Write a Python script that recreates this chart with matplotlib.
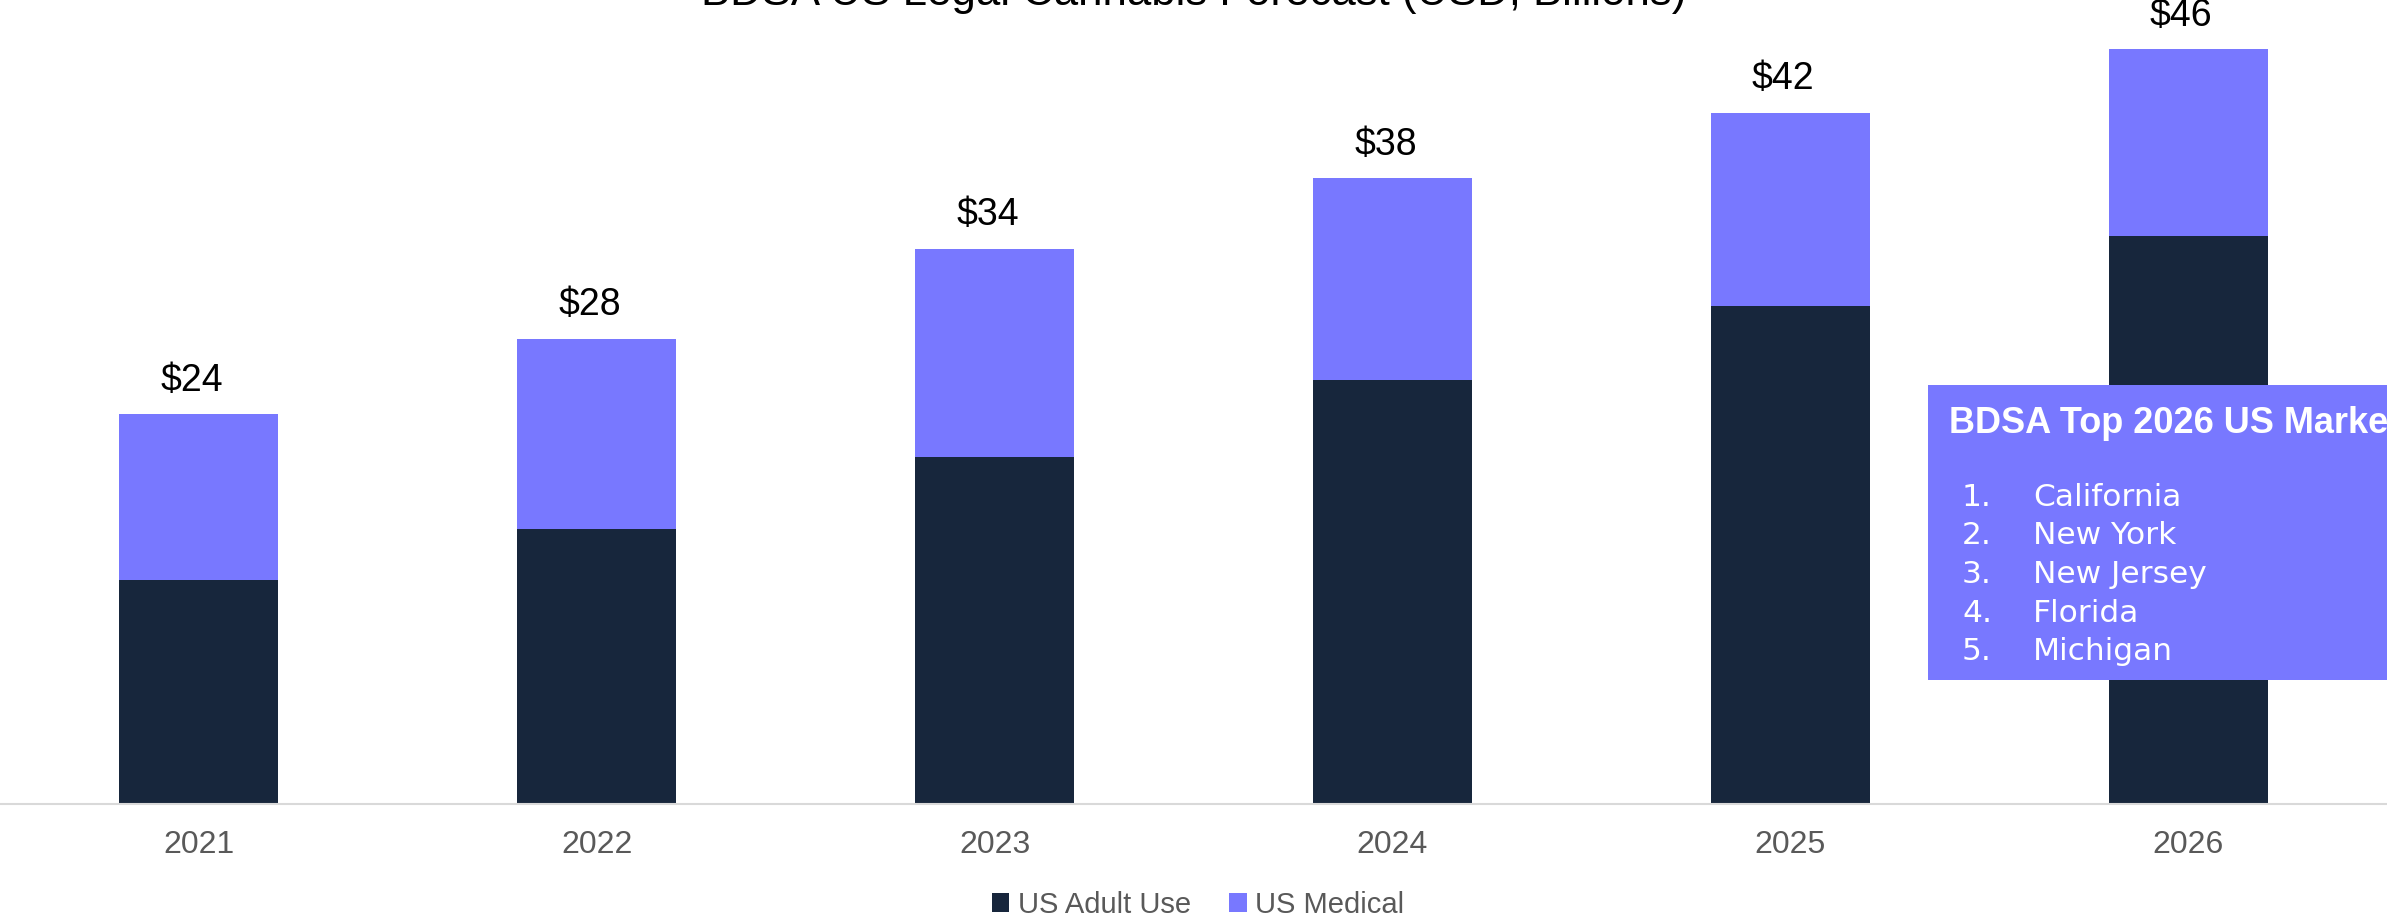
import matplotlib
matplotlib.use("Agg")
import matplotlib.pyplot as plt
import matplotlib.patches as patches
import numpy as np

# data
years = ["2021", "2022", "2023", "2024", "2025", "2026"]
adult_use = [13.7, 16.8, 21.2, 25.9, 30.4, 34.7]
medical = [10.1, 11.6, 12.7, 12.3, 11.8, 11.4]
series_names = ["US Adult Use", "US Medical"]
title = "BDSA US Legal Cannabis Forecast (USD, Billions)"
box_title = "BDSA Top 2026 US Markets"
top_markets = ["California", "New York", "New Jersey", "Florida", "Michigan"]

DARK = "#17263C"
PURPLE = "#7878FF"
GREY = "#595959"
W, H = 2387, 918

plt.rcParams['font.family'] = ['Liberation Sans', 'DejaVu Sans']

fig = plt.figure(figsize=(W / 100, H / 100), dpi=100)
ax = fig.add_axes([0, 1 - 804 / H, 1, 804 / H])

x = np.arange(len(years))
totals = np.array(adult_use) + np.array(medical)
b1 = ax.bar(x, adult_use, width=0.4, color=DARK, label=series_names[0])
b2 = ax.bar(x, medical, width=0.4, bottom=adult_use, color=PURPLE, label=series_names[1])

# total labels sit a little left of the bar centre in the source
for xi, t in zip(x, totals):
    ax.annotate("$%d" % round(t), (xi, t), xytext=(-5, 17), textcoords="offset points",
                ha="center", va="baseline", fontsize=27, color="black")

ax.set_xlim(-0.5, 5.5)
ax.set_ylim(0, 49.1)
ax.set_xticks(x)
ax.set_xticklabels(years, fontsize=23, color=GREY)
ax.tick_params(axis="x", length=0, pad=19)
ax.set_yticks([])
for s in ["top", "left", "right"]:
    ax.spines[s].set_visible(False)
ax.spines["bottom"].set_color("#D9D9D9")
ax.spines["bottom"].set_linewidth(1.5)

# title, cut off at top like the source
fig.text(0.5, 1 - 5 / H, title, ha="center", va="baseline", fontsize=31.5, color="black")

# legend
fig.legend([b1, b2], series_names, loc="center", bbox_to_anchor=(0.502, 1 - 905 / H),
           ncol=2, frameon=False, fontsize=21, labelcolor=GREY,
           handlelength=0.6, handleheight=0.6, handletextpad=0.3, columnspacing=1.3)

# callout box
box = patches.Rectangle((1928 / W, 1 - 680 / H), 0.3, (680 - 385) / H,
                        transform=fig.transFigure, facecolor=PURPLE, edgecolor="none",
                        zorder=5)
fig.add_artist(box)
fig.text(1949 / W, 1 - 433 / H, box_title, ha="left", va="baseline", fontsize=26,
         fontweight="bold", color="white", zorder=6)
for i, name in enumerate(top_markets):
    y = 1 - (506 + 38.5 * i) / H
    fig.text(1962 / W, y, "%d." % (i + 1), ha="left", va="baseline", fontsize=22.5,
             color="white", family=["DejaVu Sans"], zorder=6)
    fig.text(2033 / W, y, name, ha="left", va="baseline", fontsize=22.5,
             color="white", family=["DejaVu Sans"], zorder=6)

fig.savefig("out.png", dpi=100)
